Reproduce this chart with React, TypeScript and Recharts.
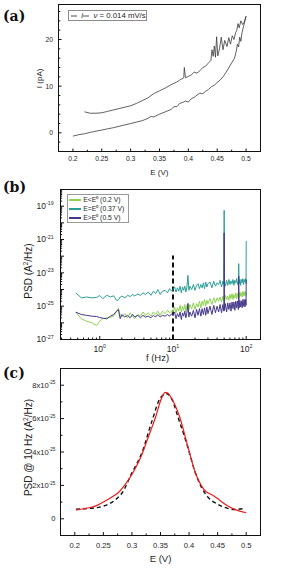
import React from 'react';
import { LineChart, Line, XAxis, YAxis, Legend, ReferenceLine } from 'recharts';

// ---------- (a) current vs potential ----------
const fwdE = [0.2, 0.21, 0.22, 0.23, 0.24, 0.25, 0.26, 0.27, 0.28, 0.29, 0.3, 0.31, 0.32, 0.33, 0.335, 0.34, 0.35, 0.36, 0.37, 0.375, 0.38, 0.385, 0.39, 0.395, 0.4, 0.405, 0.41, 0.415, 0.42, 0.425, 0.43, 0.435, 0.44, 0.445, 0.45, 0.455, 0.46, 0.465, 0.47, 0.475, 0.48, 0.483, 0.485, 0.487, 0.489, 0.491, 0.493, 0.495, 0.498, 0.5];
const fwdI = [-0.7, -0.4, -0.2, 0.1, 0.35, 0.6, 0.85, 1.1, 1.4, 1.7, 2.0, 2.3, 2.6, 3.1, 3.5, 3.4, 4.0, 4.5, 5.0, 5.6, 5.6, 6.3, 6.5, 6.8, 6.6, 7.3, 7.6, 8.1, 8.5, 8.4, 8.9, 9.3, 9.9, 10.2, 10.8, 11.3, 12.0, 12.9, 13.9, 15.0, 16.0, 17.5, 19.0, 18.4, 20.5, 19.6, 21.5, 22.5, 24.0, 25.0];
const revE = [0.5, 0.497, 0.494, 0.491, 0.488, 0.486, 0.484, 0.482, 0.479, 0.476, 0.473, 0.47, 0.467, 0.463, 0.46, 0.457, 0.454, 0.451, 0.449, 0.447, 0.445, 0.443, 0.441, 0.439, 0.435, 0.43, 0.425, 0.42, 0.415, 0.41, 0.405, 0.4, 0.395, 0.393, 0.392, 0.385, 0.38, 0.37, 0.36, 0.35, 0.34, 0.33, 0.32, 0.31, 0.3, 0.29, 0.28, 0.27, 0.26, 0.25, 0.24, 0.23, 0.22];
const revI = [25.0, 23.8, 23.2, 24.0, 22.5, 23.4, 22.0, 21.5, 20.0, 20.8, 19.0, 20.4, 18.5, 19.8, 17.8, 20.5, 18.0, 16.5, 20.6, 16.2, 18.6, 16.4, 17.8, 15.5, 15.0, 14.3, 14.0, 13.3, 12.8, 13.0, 12.4, 12.1, 11.8, 14.0, 11.8, 11.3, 10.9, 10.3, 9.6, 9.0, 8.4, 7.5, 6.9, 6.3, 5.8, 5.5, 5.2, 4.9, 4.6, 4.3, 4.2, 4.2, 4.5];
const eTicks = [0.2, 0.225, 0.25, 0.275, 0.3, 0.325, 0.35, 0.375, 0.4, 0.425, 0.45, 0.475, 0.5];
const eLabels = [0.2, 0.25, 0.3, 0.35, 0.4, 0.45, 0.5];
const aYTicks = [-2, 0, 2, 4, 6, 8, 10, 12, 14, 16, 18, 20, 22, 24, 26];
const aYLabels = [0, 10, 20];

// ---------- (b) PSD spectra (log10 of A^2/Hz) ----------
const freqHz = [
  0.47, 0.56, 0.66, 0.78, 0.9, 1.0, 1.1, 1.25, 1.4, 1.55, 1.7, 1.8, 1.9, 2.0, 2.2, 2.4, 2.6, 2.8, 3.0, 3.3, 3.6, 3.9, 4.2, 4.6, 5.0, 5.4, 5.8, 6.2, 6.7, 7.2, 7.8, 8.4, 9.0, 9.6, 10,
  10.5, 11, 11.5, 12, 12.5, 13, 13.5, 14, 14.5, 15, 15.5, 16, 16.5, 17, 18, 19, 20, 21, 22, 23, 24, 25, 26, 27, 28, 29, 30, 32, 34, 36, 38, 40, 42, 44, 46, 48, 49.5, 50, 50.5, 52, 54, 56, 58, 60, 62, 64, 66, 68, 70, 72, 74, 76, 78, 79, 80, 82, 84, 86, 88, 90, 92, 94, 96, 98, 99.5, 100,
];
const greenLog = [
  -25.36, -25.76, -25.9, -26.0, -26.16, -25.9, -25.75, -25.7, -25.66, -25.6, -25.3, -25.12, -25.55, -25.65, -25.45, -25.7, -25.4, -25.6, -25.75, -25.5, -25.6, -25.35, -25.55, -25.4, -25.6, -25.35, -25.5, -25.3, -25.55, -25.3, -25.45, -25.25, -25.4, -25.3, -25.35,
  -25.05, -25.4, -25.1, -25.3, -24.95, -25.35, -25.0, -25.25, -24.9, -25.3,
  -24.95, -24.8, -25.2, -24.9, -25.15, -24.8, -25.2, -24.85, -25.05, -24.7,
  -25.1, -24.7, -24.95, -24.6, -25.0, -24.65, -24.85, -24.55, -24.9, -24.5,
  -24.8, -24.5, -24.7, -24.45, -24.75, -24.4, -24.65, -24.45, -24.7, -24.35,
  -24.6, -24.4, -24.65, -24.3, -24.55, -24.25, -24.6, -24.3, -24.5, -24.2,
  -24.55, -24.25, -24.45, -24.3, -24.5, -24.15, -24.4, -24.2, -24.45, -24.1,
  -24.35, -24.15, -24.4, -24.1, -24.3, -24.2,
];
const tealLog = [
  -24.2, -24.5, -24.45, -24.5, -24.48, -24.36, -24.55, -24.35, -24.45, -24.38, -24.66, -24.62, -24.45, -24.4, -24.5, -24.35, -24.42, -24.3, -24.38, -24.28, -24.35, -24.2, -24.3, -24.15, -24.35, -24.1, -24.25, -24.0, -24.3, -24.1, -24.05, -24.2, -23.95, -24.1, -24.0,
  -23.85, -24.15, -23.9, -24.1, -23.8, -24.2, -23.85, -24.05, -23.8, -24.15,
  -23.85, -23.15, -24.05, -23.8, -24.0, -23.7, -24.05, -23.75, -23.65, -23.95,
  -23.7, -23.9, -23.6, -23.95, -23.55, -23.85, -23.65, -23.55, -23.9, -23.5,
  -23.8, -23.6, -23.7, -23.45, -23.85, -23.5, -23.7, -19.25, -23.55, -23.8,
  -23.45, -23.75, -23.4, -23.7, -23.5, -23.65, -23.4, -23.75, -23.45, -23.6,
  -23.35, -23.7, -23.45, -22.45, -23.65, -23.4, -23.75, -23.4, -23.6, -23.35,
  -23.7, -23.4, -23.55, -23.35, -23.65, -21.1,
];
const purpleLog = [
  -25.36, -25.5, -25.55, -25.6, -25.62, -25.68, -25.72, -25.76, -25.6, -25.5, -25.3, -25.22, -25.75, -25.5, -25.65, -25.55, -25.7, -25.5, -25.65, -25.55, -25.7, -25.55, -25.65, -25.6, -25.7, -25.55, -25.65, -25.5, -25.65, -25.55, -25.6, -25.5, -25.6, -25.45, -25.55,
  -25.35, -25.75, -25.45, -25.65, -25.35, -25.8, -25.4, -25.6, -25.3, -25.7,
  -25.4, -24.85, -25.65, -25.35, -25.6, -25.25, -25.7, -25.2, -25.55, -25.15,
  -25.6, -25.15, -25.5, -25.1, -25.55, -25.05, -25.45, -25.0, -25.5, -24.95,
  -25.4, -25.0, -25.35, -24.9, -25.4, -24.9, -25.3, -20.6, -25.25, -24.85,
  -25.35, -24.8, -25.2, -24.8, -25.3, -24.75, -25.15, -24.75, -25.25, -24.7,
  -25.1, -24.7, -25.2, -23.2, -25.1, -24.65, -25.05, -24.7, -25.1, -24.6,
  -25.0, -24.6, -25.05, -24.6, -24.95, -23.4,
];
const seriesNames = ['E<E⁰ (0.2 V)', 'E=E⁰ (0.37 V)', 'E>E⁰ (0.5 V)'];
const cutoffHz = 10;
const cutoffTop = 1.1e-22;
const bXDecades = [0.1, 1, 10, 100];
const bYExps = [-27, -26, -25, -24, -23, -22, -21, -20, -19, -18];
const bYLabelExps = [-27, -25, -23, -21, -19];

// ---------- (c) PSD at 10 Hz vs potential (units of 1e-25) ----------
const fitE = [0.202, 0.215, 0.225, 0.24, 0.251, 0.265, 0.276, 0.288, 0.3, 0.31, 0.3175, 0.325, 0.333, 0.341, 0.35, 0.355, 0.358, 0.362, 0.367, 0.375, 0.384, 0.393, 0.4, 0.41, 0.422, 0.43, 0.436, 0.442, 0.454, 0.468, 0.483, 0.5];
const fitPsd = [0.52, 0.6, 0.66, 0.82, 1.02, 1.3, 1.56, 2.05, 2.65, 3.3, 3.85, 4.55, 5.3, 6.05, 7.05, 7.45, 7.57, 7.55, 7.35, 6.85, 6.05, 4.95, 4.05, 2.85, 1.96, 1.62, 1.5, 1.4, 1.1, 0.76, 0.52, 0.36];
const measE = [0.202, 0.225, 0.25, 0.268, 0.283, 0.3, 0.318, 0.335, 0.35, 0.361, 0.37, 0.381, 0.399, 0.41, 0.422, 0.433, 0.451, 0.468, 0.48, 0.494];
const measPsd = [0.58, 0.62, 0.76, 1.06, 1.56, 2.75, 4.0, 5.85, 7.25, 7.49, 7.15, 6.05, 4.15, 2.85, 1.86, 1.3, 0.86, 0.62, 0.56, 0.6];
const cYTicks = [-1, 0, 1, 2, 3, 4, 5, 6, 7, 8, 9];
const cYLabels = [0, 2, 4, 6, 8];

const INK = '#1e1e1e';
const SANS = "'Liberation Sans', Arial, sans-serif";
const frame = { stroke: '#111', strokeWidth: 1 };
const colors = ['#8ed24f', '#2a9f97', '#46398b'];

const near = (a: number, b: number) => Math.abs(a - b) <= Math.max(Math.abs(a), Math.abs(b)) * 1e-6;

type Side = 'bottom' | 'top' | 'left' | 'right';
interface TickCfg {
  side: Side;
  majors: number[];
  fmt?: (v: number) => React.ReactNode | null;
  size?: number;
  gap?: number;
  long?: number;
  short?: number;
}

const makeTick = (cfg: TickCfg) => (p: any) => {
  const { x, y, payload } = p;
  const v = Number(payload?.value);
  const len = cfg.majors.some((m) => near(m, v)) ? cfg.long ?? 3.5 : cfg.short ?? 2;
  const d =
    cfg.side === 'bottom' ? [0, -len] : cfg.side === 'top' ? [0, len] : cfg.side === 'left' ? [len, 0] : [-len, 0];
  const label = cfg.fmt ? cfg.fmt(v) : null;
  const size = cfg.size ?? 7;
  const gap = cfg.gap ?? 8;
  return (
    <g>
      <line x1={x} y1={y} x2={x + d[0]} y2={y + d[1]} stroke="#111" strokeWidth={1} />
      {label !== null && cfg.side === 'bottom' && (
        <text x={x} y={y + gap} textAnchor="middle" fontSize={size} fontFamily={SANS} fill={INK}>
          {label}
        </text>
      )}
      {label !== null && cfg.side === 'left' && (
        <text x={x - gap} y={y + size * 0.35} textAnchor="end" fontSize={size} fontFamily={SANS} fill={INK}>
          {label}
        </text>
      )}
    </g>
  );
};

const pow10 = (base: string, exp: string, size: number) => (
  <>
    <tspan>{base}</tspan>
    <tspan dy={-size * 0.45} fontSize={size * 0.62}>
      {exp}
    </tspan>
  </>
);

const title = (content: React.ReactNode, x: number, y: number, size: number, rotate = false) => () => (
  <text
    x={x}
    y={y}
    textAnchor="middle"
    dominantBaseline={rotate ? 'central' : undefined}
    transform={rotate ? `rotate(-90 ${x} ${y})` : undefined}
    fontSize={size}
    fontFamily={SANS}
    fill={INK}
  >
    {content}
  </text>
);

const a2Hz = (
  <>
    (A<tspan dy={-3.5} fontSize={6.5}>2</tspan>
    <tspan dy={3.5}>/Hz)</tspan>
  </>
);

const PanelTag = ({ text, top }: { text: string; top: number }) => (
  <div
    style={{
      position: 'absolute', left: 3, top, fontFamily: "'DejaVu Serif', serif", fontWeight: 'bold',
      fontSize: 14, lineHeight: '14px', color: '#111',
    }}
  >
    {text}
  </div>
);

// plot-box outline laid over each panel
const Box = ({ left, top, width, height }: { left: number; top: number; width: number; height: number }) => (
  <div
    style={{
      position: 'absolute', left, top, width, height, boxSizing: 'border-box',
      border: '1px solid #111', pointerEvents: 'none',
    }}
  />
);

const fwdRows = fwdE.map((e, k) => ({ e, i: fwdI[k] }));
const revRows = revE.map((e, k) => ({ e, i: revI[k] }));
const eDomain: [number, number] = [0.175, 0.525];
const aYDomain: [number, number] = [-4, 27.5];

function PanelA() {
  const fmtX = (v: number) => (eLabels.some((l) => near(l, v)) ? String(v) : null);
  const fmtY = (v: number) => (aYLabels.some((l) => near(l, v)) ? String(v) : null);
  return (
    <LineChart width={299} height={180} margin={{ top: 4.5, right: 38.5, bottom: 0, left: 0 }}>
      <XAxis
        type="number" dataKey="e" domain={eDomain} allowDataOverflow ticks={eTicks} interval={0} height={28.5}
        axisLine={frame} tickLine={false} tickSize={0} tickMargin={0}
        tick={makeTick({ side: 'bottom', majors: eLabels, fmt: fmtX, size: 6.8, gap: 9, long: 3, short: 1.8 })}
        label={title('E (V)', 159.3, 174.5, 8)}
      />
      <XAxis
        xAxisId="top" orientation="top" mirror height={0} type="number" domain={eDomain} allowDataOverflow
        ticks={eTicks} interval={0} axisLine={frame} tickLine={false} tickSize={0} tickMargin={0}
        tick={makeTick({ side: 'top', majors: eLabels, long: 3, short: 1.8 })}
      />
      <YAxis
        type="number" domain={aYDomain} allowDataOverflow ticks={aYTicks} interval={0} width={58.5}
        axisLine={frame} tickLine={false} tickSize={0} tickMargin={0}
        tick={makeTick({ side: 'left', majors: aYLabels, fmt: fmtY, size: 6.8, gap: 5.5, long: 3, short: 1.8 })}
        label={title('I (pA)', 39.5, 78.4, 8, true)}
      />
      <YAxis
        yAxisId="right" orientation="right" mirror width={0} type="number" domain={aYDomain} allowDataOverflow
        ticks={aYTicks} interval={0} axisLine={frame} tickLine={false} tickSize={0} tickMargin={0}
        tick={makeTick({ side: 'right', majors: aYLabels, long: 3, short: 1.8 })}
      />
      <Line data={fwdRows} dataKey="i" name="ν = 0.014 mV/s" stroke="#3a3a3a" strokeWidth={0.8} dot={false} isAnimationActive={false} />
      <Line data={revRows} dataKey="i" stroke="#3a3a3a" strokeWidth={0.8} dot={false} legendType="none" isAnimationActive={false} />
      <Legend
        layout="vertical" align="center" verticalAlign="middle"
        wrapperStyle={{ left: 67.7, top: 10, width: 'auto' }}
        content={(p: any) => (
          <div
            style={{
              boxSizing: 'border-box', width: 79, height: 11, border: '1px solid #8c8c8c', background: '#fff',
              display: 'flex', alignItems: 'center', paddingLeft: 2, fontFamily: SANS, fontSize: 7.8, color: INK,
            }}
          >
            {(p.payload ?? []).map((it: any) => (
              <React.Fragment key={String(it.value)}>
                <svg width={13} height={4} style={{ display: 'block' }}>
                  <line x1={0} y1={2} x2={13} y2={2} stroke={it.color} strokeWidth={0.9} />
                </svg>
                <span style={{ marginLeft: 4, whiteSpace: 'nowrap' }}>
                  <i>{String(it.value).slice(0, 1)}</i>
                  {String(it.value).slice(1)}
                </span>
              </React.Fragment>
            ))}
          </div>
        )}
      />
    </LineChart>
  );
}

const psdRows = freqHz.map((f, k) => ({
  f,
  green: 10 ** greenLog[k],
  teal: 10 ** tealLog[k],
  purple: 10 ** purpleLog[k],
}));
const bXDomain: [number, number] = [0.291, 156.7];
const bYDomain: [number, number] = [1e-27, 1e-18];
const bXTicks = bXDecades.flatMap((d) => [1, 2, 3, 4, 5, 6, 7, 8, 9].map((m) => m * d)).filter((v) => v >= bXDomain[0] && v <= bXDomain[1]);
const bXMajors = [1, 10, 100];
const bYTicks = bYExps.flatMap((e) => [1, 2, 3, 4, 5, 6, 7, 8, 9].map((m) => m * 10 ** e)).filter((v) => v <= 1.0001e-18);
const bYMajors = bYExps.map((e) => 10 ** e);

function PanelB() {
  const fmtX = (v: number) => {
    const e = Math.round(Math.log10(v));
    return bXMajors.some((m) => near(m, v)) ? pow10('10', String(e), 8.5) : null;
  };
  const fmtY = (v: number) => {
    const e = Math.round(Math.log10(v));
    return near(v, 10 ** e) && bYLabelExps.includes(e) ? pow10('10', String(e), 8.5) : null;
  };
  const keys = ['green', 'teal', 'purple'];
  return (
    <LineChart width={299} height={190} data={psdRows} margin={{ top: 9.5, right: 38.5, bottom: 0, left: 0 }}>
      <XAxis
        type="number" dataKey="f" scale="log" domain={bXDomain} allowDataOverflow ticks={bXTicks} interval={0} height={30.5}
        axisLine={frame} tickLine={false} tickSize={0} tickMargin={0}
        tick={makeTick({ side: 'bottom', majors: bXMajors, fmt: fmtX, size: 8.5, gap: 12, long: 3.5, short: 2 })}
        label={title('f (Hz)', 157.5, 181, 9.5)}
      />
      <XAxis
        xAxisId="top" orientation="top" mirror height={0} type="number" scale="log" domain={bXDomain} allowDataOverflow
        ticks={bXTicks} interval={0} axisLine={frame} tickLine={false} tickSize={0} tickMargin={0}
        tick={makeTick({ side: 'top', majors: bXMajors, long: 3.5, short: 2 })}
      />
      <YAxis
        type="number" scale="log" domain={bYDomain} allowDataOverflow ticks={bYTicks} interval={0} width={60.5}
        axisLine={frame} tickLine={false} tickSize={0} tickMargin={0}
        tick={makeTick({ side: 'left', majors: bYMajors, fmt: fmtY, size: 8.5, gap: 6.8, long: 3.5, short: 1.6 })}
        label={title(<>PSD {a2Hz}</>, 28.3, 91, 10, true)}
      />
      <YAxis
        yAxisId="right" orientation="right" mirror width={0} type="number" scale="log" domain={bYDomain} allowDataOverflow
        ticks={bYTicks} interval={0} axisLine={frame} tickLine={false} tickSize={0} tickMargin={0}
        tick={makeTick({ side: 'right', majors: bYMajors, long: 3.5, short: 1.6 })}
      />
      <ReferenceLine
        segment={[{ x: cutoffHz, y: 1e-27 }, { x: cutoffHz, y: cutoffTop }]}
        stroke="#111" strokeWidth={2} strokeDasharray="5 3" ifOverflow="visible"
      />
      {keys.map((k, idx) => (
        <Line
          key={k} dataKey={k} name={seriesNames[idx]} stroke={colors[idx]} strokeWidth={1}
          dot={false} isAnimationActive={false}
        />
      ))}
      <Legend
        layout="vertical" align="center" verticalAlign="middle"
        wrapperStyle={{ left: 66.7, top: 14.3, width: 'auto' }}
        content={(p: any) => (
          <div
            style={{
              boxSizing: 'border-box', width: 62, height: 28.5, border: '1px solid #999', background: '#fff',
              paddingLeft: 1.5, fontFamily: SANS, fontSize: 6.8, lineHeight: '9px', color: INK,
            }}
          >
            {(p.payload ?? []).map((it: any) => (
              <div key={String(it.value)} style={{ display: 'flex', alignItems: 'center', whiteSpace: 'nowrap' }}>
                <svg width={12} height={4} style={{ display: 'block' }}>
                  <line x1={0} y1={2} x2={12} y2={2} stroke={it.color} strokeWidth={2} />
                </svg>
                <span style={{ marginLeft: 2 }}>{it.value}</span>
              </div>
            ))}
          </div>
        )}
      />
    </LineChart>
  );
}

const fitRows = fitE.map((e, k) => ({ e, p: fitPsd[k] * 1e-25 }));
const measRows = measE.map((e, k) => ({ e, p: measPsd[k] * 1e-25 }));
const cYTickVals = cYTicks.map((m) => m * 1e-25);
const cYMajors = cYLabels.map((m) => m * 1e-25);
const cYDomain: [number, number] = [-1e-25, 9e-25];

function PanelC() {
  const fmtX = (v: number) => (eLabels.some((l) => near(l, v)) ? String(v) : null);
  const fmtY = (v: number) => {
    if (!cYMajors.some((m) => near(m, v))) return null;
    const m = Math.round(v / 1e-25);
    return m === 0 ? '0' : pow10(`${m}x10`, '-25', 7.6);
  };
  return (
    <LineChart width={299} height={212} margin={{ top: 8.5, right: 38.5, bottom: 0, left: 0 }}>
      <XAxis
        type="number" dataKey="e" domain={eDomain} allowDataOverflow ticks={eTicks} interval={0} height={36.5}
        axisLine={frame} tickLine={false} tickSize={0} tickMargin={0}
        tick={makeTick({ side: 'bottom', majors: eLabels, fmt: fmtX, size: 7.6, gap: 12.3, long: 3.5, short: 2 })}
        label={title('E (V)', 160.5, 202.3, 9.5)}
      />
      <XAxis
        xAxisId="top" orientation="top" mirror height={0} type="number" domain={eDomain} allowDataOverflow
        ticks={eTicks} interval={0} axisLine={frame} tickLine={false} tickSize={0} tickMargin={0}
        tick={makeTick({ side: 'top', majors: eLabels, long: 3.5, short: 2 })}
      />
      <YAxis
        type="number" domain={cYDomain} allowDataOverflow ticks={cYTickVals} interval={0} width={60.5}
        axisLine={frame} tickLine={false} tickSize={0} tickMargin={0}
        tick={makeTick({ side: 'left', majors: cYMajors, fmt: fmtY, size: 7.6, gap: 5, long: 3.5, short: 2 })}
        label={title(<>PSD @ 10 Hz {a2Hz}</>, 28.3, 87.5, 10, true)}
      />
      <YAxis
        yAxisId="right" orientation="right" mirror width={0} type="number" domain={cYDomain} allowDataOverflow
        ticks={cYTickVals} interval={0} axisLine={frame} tickLine={false} tickSize={0} tickMargin={0}
        tick={makeTick({ side: 'right', majors: cYMajors, long: 3.5, short: 2 })}
      />
      <Line
        data={measRows} dataKey="p" type="monotone" stroke="#111" strokeWidth={1.4} strokeDasharray="4 3"
        dot={false} isAnimationActive={false}
      />
      <Line
        data={fitRows} dataKey="p" type="monotone" stroke="#ee1c1c" strokeWidth={1.2}
        dot={false} isAnimationActive={false}
      />
    </LineChart>
  );
}

export default function App() {
  return (
    <div style={{ position: 'absolute', left: 0, top: 0, width: 299, height: 572, background: '#fff' }}>
      <div style={{ position: 'absolute', left: 0, top: 0 }}>
        <PanelA />
      </div>
      <div style={{ position: 'absolute', left: 0, top: 180 }}>
        <PanelB />
      </div>
      <div style={{ position: 'absolute', left: 0, top: 360 }}>
        <PanelC />
      </div>
      <Box left={58} top={4} width={203} height={148} />
      <Box left={60} top={189} width={201} height={151} />
      <Box left={60} top={368} width={201} height={168} />
      <PanelTag text="(a)" top={9} />
      <PanelTag text="(b)" top={179.5} />
      <PanelTag text="(c)" top={365.5} />
    </div>
  );
}
